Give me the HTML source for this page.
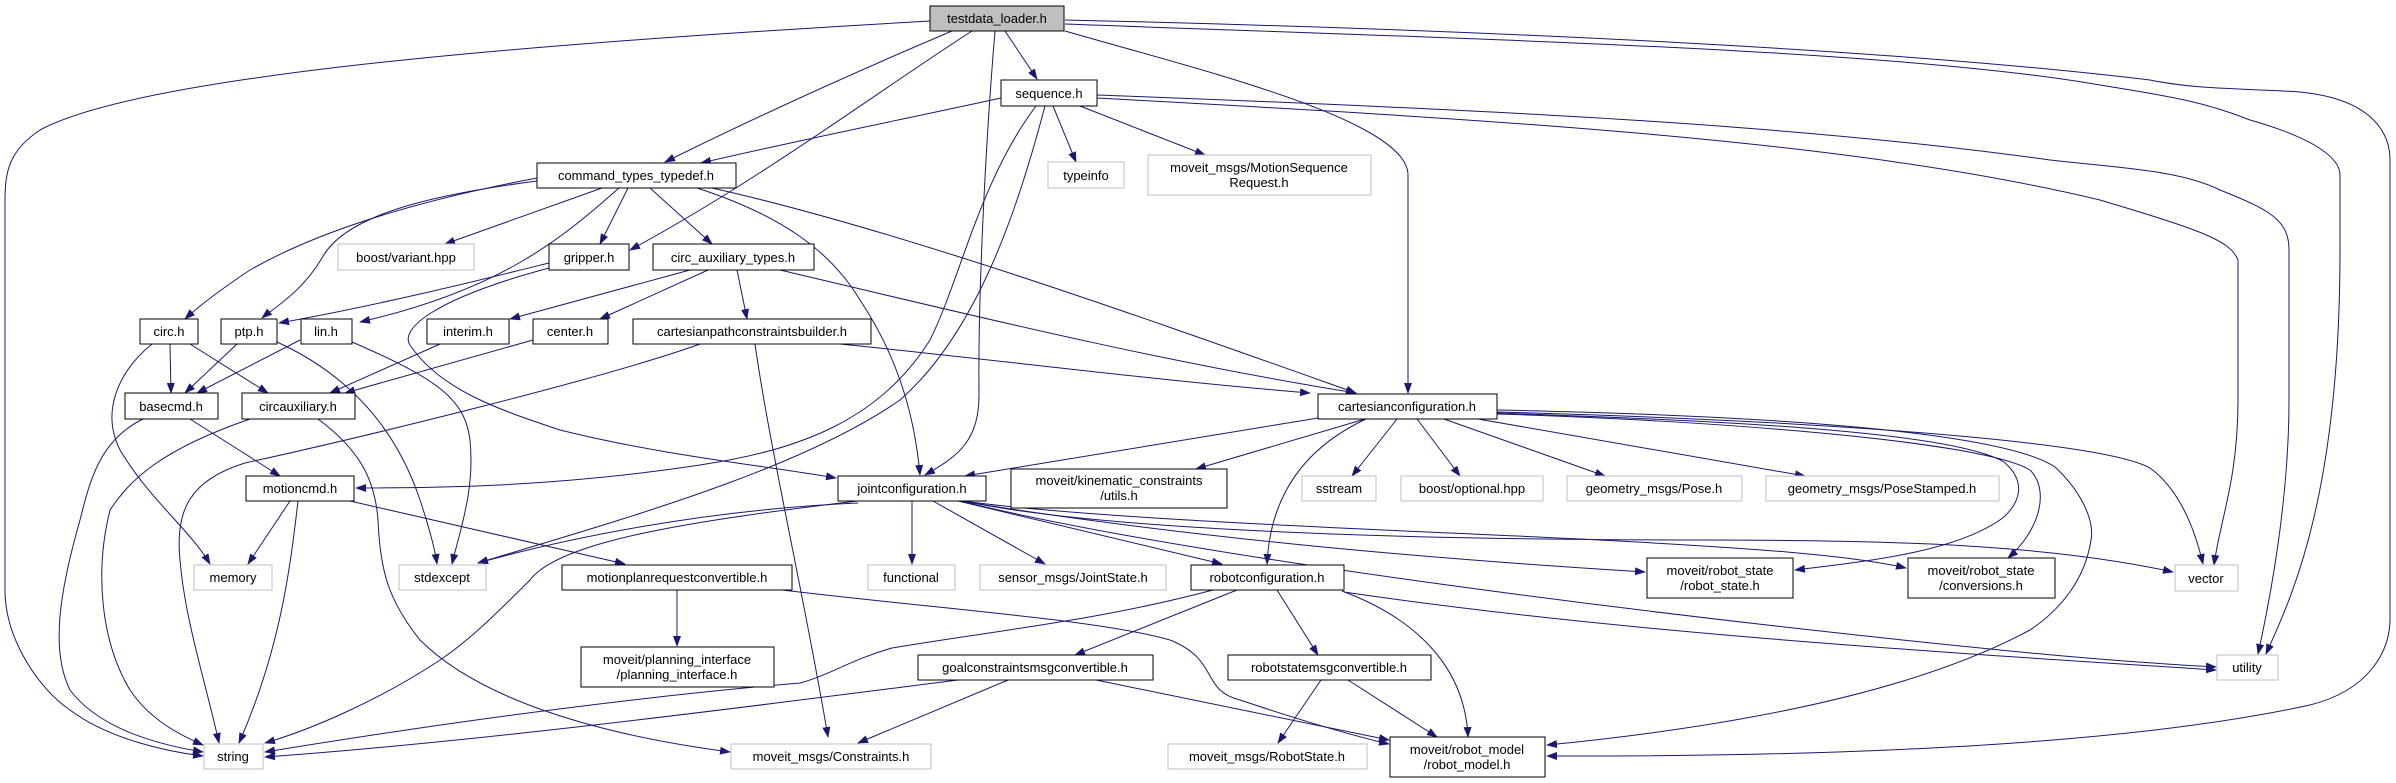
<!DOCTYPE html>
<html><head><meta charset="utf-8"><style>
html,body{margin:0;padding:0;background:#fff;}
svg{display:block}
text{font-family:"Liberation Sans","DejaVu Sans",sans-serif;font-size:13px;fill:#000;text-anchor:middle}
.n{fill:#fff;stroke:#000;stroke-width:1}
.g{fill:#fff;stroke:#bfbfbf;stroke-width:1}
.e{fill:none;stroke:#191970;stroke-width:1}
</style></head><body>
<svg width="2396" height="783" viewBox="0 0 2396 783" xmlns="http://www.w3.org/2000/svg">
<defs>
<marker id="a" markerWidth="11" markerHeight="8" refX="10" refY="4" orient="auto" markerUnits="userSpaceOnUse">
<path d="M0,0 L11,4 L0,8 Z" fill="#191970"/></marker>
</defs>
<g class="e" marker-end="url(#a)">
<path d="M930,21 C600,40 150,70 40,130 C10,150 5,170 5,200 L5,590 C5,640 40,690 70,710 C110,740 170,752 203,756"/>
<path d="M952,31 C860,70 760,115 665,162"/>
<path d="M972,31 C880,90 760,180 630,250"/>
<path d="M995,31 C985,150 978,300 979,390 C980,440 960,455 925,475"/>
<path d="M1005,31 L1037,79"/>
<path d="M1065,31 C1200,70 1408,120 1408,175 L1408,393"/>
<path d="M1065,24 C1500,40 1900,50 2100,85 C2160,95 2200,100 2250,120 C2320,140 2340,160 2340,175 L2340,250 C2340,500 2290,600 2266,654"/>
<path d="M1065,20 C1500,30 1900,50 2150,80 C2200,90 2240,88 2300,92 C2380,100 2390,140 2390,160 L2390,620 C2390,650 2370,690 2310,705 C2150,740 1900,757 1547,756"/>
<path d="M1001,98 C900,120 800,140 701,163"/>
<path d="M1053,106 L1076,162"/>
<path d="M1080,106 L1205,155"/>
<path d="M1036,106 C980,180 960,280 930,340 C880,420 800,450 700,465 C550,488 420,488 356,488"/>
<path d="M1045,106 C1020,200 980,330 900,400 C800,470 620,520 478,563"/>
<path d="M1097,95 C1500,110 1800,125 2050,160 C2120,168 2180,170 2220,190 C2270,210 2289,220 2289,250 L2289,400 C2289,500 2270,600 2258,654"/>
<path d="M1097,98 C1500,120 1850,140 2100,200 C2200,230 2230,240 2238,260 L2238,400 C2238,480 2220,520 2214,565"/>
<path d="M537,178 C420,200 320,230 250,270 C220,290 200,305 185,319"/>
<path d="M537,181 C430,195 345,215 322,258 C302,292 274,308 262,318"/>
<path d="M619,188 C560,240 500,290 360,322"/>
<path d="M602,188 L445,244"/>
<path d="M628,188 L600,244"/>
<path d="M650,188 L712,244"/>
<path d="M697,188 C780,215 830,250 860,300 C900,360 915,420 920,475"/>
<path d="M712,188 C900,230 1150,320 1356,393"/>
<path d="M549,263 C480,280 380,305 279,323"/>
<path d="M549,268 C430,300 400,330 410,345 C440,390 500,410 560,430 C660,455 760,465 836,478"/>
<path d="M690,270 L510,319"/>
<path d="M708,270 L600,319"/>
<path d="M737,270 L747,319"/>
<path d="M780,270 C950,310 1150,360 1356,393"/>
<path d="M170,344 L171,393"/>
<path d="M190,344 L268,393"/>
<path d="M152,344 C120,370 100,410 120,450 C150,500 190,530 210,564"/>
<path d="M237,344 L185,393"/>
<path d="M277,342 C360,380 400,440 420,500 C430,530 435,550 437,564"/>
<path d="M300,340 L197,393"/>
<path d="M352,342 C440,380 465,400 470,440 C475,490 460,530 452,564"/>
<path d="M440,344 L330,393"/>
<path d="M533,340 L345,393"/>
<path d="M700,344 C600,380 350,440 245,463 C190,480 175,510 180,560 C185,620 205,680 219,743"/>
<path d="M755,344 C770,450 805,600 828,737"/>
<path d="M840,344 C1000,360 1150,380 1310,393"/>
<path d="M190,419 L280,476"/>
<path d="M143,419 C100,440 90,480 80,520 C60,590 50,650 70,690 C100,730 160,745 203,752"/>
<path d="M250,419 C160,450 130,480 110,510 C95,570 100,640 130,690 C150,720 180,735 203,745"/>
<path d="M318,419 C360,450 375,480 378,520 C380,570 388,600 420,640 C480,700 600,735 730,752"/>
<path d="M290,501 L248,564"/>
<path d="M298,501 C290,570 280,650 239,743"/>
<path d="M350,501 L625,564"/>
<path d="M677,590 L677,646"/>
<path d="M782,590 C950,610 1100,620 1170,640 C1220,660 1200,690 1240,700 C1300,720 1350,735 1389,744"/>
<path d="M857,501 C700,520 560,540 530,580 C500,610 470,640 440,660 C380,700 310,730 265,743"/>
<path d="M858,503 C700,510 560,540 478,563"/>
<path d="M912,501 L912,564"/>
<path d="M933,501 L1045,564"/>
<path d="M958,501 L1222,564"/>
<path d="M960,501 C1200,540 1450,560 1645,572"/>
<path d="M963,501 C1100,520 1400,530 1600,540 C1750,548 1850,555 1906,568"/>
<path d="M963,501 C1100,530 1400,540 1700,540 C1900,540 2050,545 2173,572"/>
<path d="M960,501 C1200,560 1700,620 2000,650 C2100,660 2180,665 2216,667"/>
<path d="M1318,418 L965,476"/>
<path d="M1365,419 L1196,469"/>
<path d="M1366,419 C1300,450 1270,500 1267,564"/>
<path d="M1397,419 L1352,476"/>
<path d="M1417,419 L1460,476"/>
<path d="M1444,419 L1605,476"/>
<path d="M1478,419 L1805,476"/>
<path d="M1497,413 C1700,420 1950,430 2004,462 C2025,480 2022,500 2004,517 C1960,550 1880,560 1795,570"/>
<path d="M1497,414 C1700,420 1980,440 2030,470 C2050,490 2040,530 2008,558"/>
<path d="M1497,412 C1800,420 2100,440 2150,468 C2180,490 2195,530 2203,564"/>
<path d="M1497,410 C1750,415 2000,430 2055,467 C2080,490 2095,520 2091,540 C2085,580 2060,610 2030,630 C1900,700 1700,730 1547,745"/>
<path d="M1213,590 C1100,620 1000,630 892,648 C850,660 830,675 800,683 C600,700 400,730 265,752"/>
<path d="M1237,590 L1075,655"/>
<path d="M1277,590 L1318,655"/>
<path d="M1342,591 C1420,620 1465,670 1468,737"/>
<path d="M1344,592 C1600,630 1900,650 2216,670"/>
<path d="M958,680 C800,700 500,740 265,757"/>
<path d="M1008,680 L858,743"/>
<path d="M1096,680 L1389,740"/>
<path d="M1321,680 L1278,743"/>
<path d="M1348,680 L1437,737"/>
</g>
<rect x="930" y="6" width="134" height="25" fill="#bfbfbf" stroke="#000"/><text x="997" y="23">testdata_loader.h</text>
<rect class="n" x="1001" y="80" width="96" height="26"/><text x="1049" y="98">sequence.h</text>
<rect class="g" x="1048" y="162" width="76" height="26"/><text x="1086" y="180">typeinfo</text>
<rect class="g" x="1148" y="155" width="223" height="40"/><text x="1259" y="172">moveit_msgs/MotionSequence</text><text x="1259" y="187">Request.h</text>
<rect class="n" x="537" y="163" width="199" height="25"/><text x="636" y="180">command_types_typedef.h</text>
<rect class="g" x="338" y="244" width="136" height="26"/><text x="406" y="262">boost/variant.hpp</text>
<rect class="n" x="549" y="244" width="80" height="26"/><text x="589" y="262">gripper.h</text>
<rect class="n" x="653" y="244" width="161" height="26"/><text x="733" y="262">circ_auxiliary_types.h</text>
<rect class="n" x="140" y="319" width="58" height="25"/><text x="169" y="336">circ.h</text>
<rect class="n" x="221" y="319" width="56" height="25"/><text x="249" y="336">ptp.h</text>
<rect class="n" x="301" y="319" width="51" height="25"/><text x="326" y="336">lin.h</text>
<rect class="n" x="427" y="319" width="82" height="25"/><text x="468" y="336">interim.h</text>
<rect class="n" x="533" y="319" width="75" height="25"/><text x="570" y="336">center.h</text>
<rect class="n" x="633" y="319" width="238" height="25"/><text x="752" y="336">cartesianpathconstraintsbuilder.h</text>
<rect class="n" x="125" y="393" width="93" height="26"/><text x="171" y="411">basecmd.h</text>
<rect class="n" x="242" y="393" width="113" height="26"/><text x="298" y="411">circauxiliary.h</text>
<rect class="n" x="1318" y="394" width="179" height="25"/><text x="1407" y="411">cartesianconfiguration.h</text>
<rect class="n" x="246" y="476" width="108" height="25"/><text x="300" y="493">motioncmd.h</text>
<rect class="n" x="838" y="476" width="148" height="25"/><text x="912" y="493">jointconfiguration.h</text>
<rect class="n" x="1011" y="469" width="216" height="39"/><text x="1119" y="485">moveit/kinematic_constraints</text><text x="1119" y="500">/utils.h</text>
<rect class="g" x="1302" y="476" width="74" height="25"/><text x="1339" y="493">sstream</text>
<rect class="g" x="1401" y="476" width="142" height="25"/><text x="1472" y="493">boost/optional.hpp</text>
<rect class="g" x="1567" y="476" width="175" height="25"/><text x="1654" y="493">geometry_msgs/Pose.h</text>
<rect class="g" x="1766" y="476" width="233" height="25"/><text x="1882" y="493">geometry_msgs/PoseStamped.h</text>
<rect class="g" x="194" y="565" width="78" height="25"/><text x="233" y="582">memory</text>
<rect class="g" x="399" y="565" width="87" height="25"/><text x="442" y="582">stdexcept</text>
<rect class="n" x="562" y="565" width="230" height="25"/><text x="677" y="582">motionplanrequestconvertible.h</text>
<rect class="g" x="868" y="565" width="87" height="25"/><text x="911" y="582">functional</text>
<rect class="g" x="980" y="565" width="186" height="25"/><text x="1073" y="582">sensor_msgs/JointState.h</text>
<rect class="n" x="1191" y="565" width="153" height="25"/><text x="1267" y="582">robotconfiguration.h</text>
<rect class="n" x="1647" y="558" width="146" height="40"/><text x="1720" y="575">moveit/robot_state</text><text x="1720" y="590">/robot_state.h</text>
<rect class="n" x="1908" y="558" width="147" height="40"/><text x="1981" y="575">moveit/robot_state</text><text x="1981" y="590">/conversions.h</text>
<rect class="g" x="2175" y="565" width="63" height="26"/><text x="2206" y="583">vector</text>
<rect class="n" x="581" y="647" width="193" height="40"/><text x="677" y="664">moveit/planning_interface</text><text x="677" y="679">/planning_interface.h</text>
<rect class="n" x="918" y="655" width="235" height="25"/><text x="1035" y="672">goalconstraintsmsgconvertible.h</text>
<rect class="n" x="1228" y="655" width="203" height="25"/><text x="1329" y="672">robotstatemsgconvertible.h</text>
<rect class="g" x="2217" y="655" width="61" height="25"/><text x="2247" y="672">utility</text>
<rect class="g" x="204" y="744" width="59" height="25"/><text x="233" y="761">string</text>
<rect class="g" x="731" y="744" width="200" height="25"/><text x="831" y="761">moveit_msgs/Constraints.h</text>
<rect class="g" x="1168" y="744" width="199" height="25"/><text x="1267" y="761">moveit_msgs/RobotState.h</text>
<rect class="n" x="1390" y="737" width="155" height="40"/><text x="1467" y="754">moveit/robot_model</text><text x="1467" y="769">/robot_model.h</text>
</svg>
</body></html>
